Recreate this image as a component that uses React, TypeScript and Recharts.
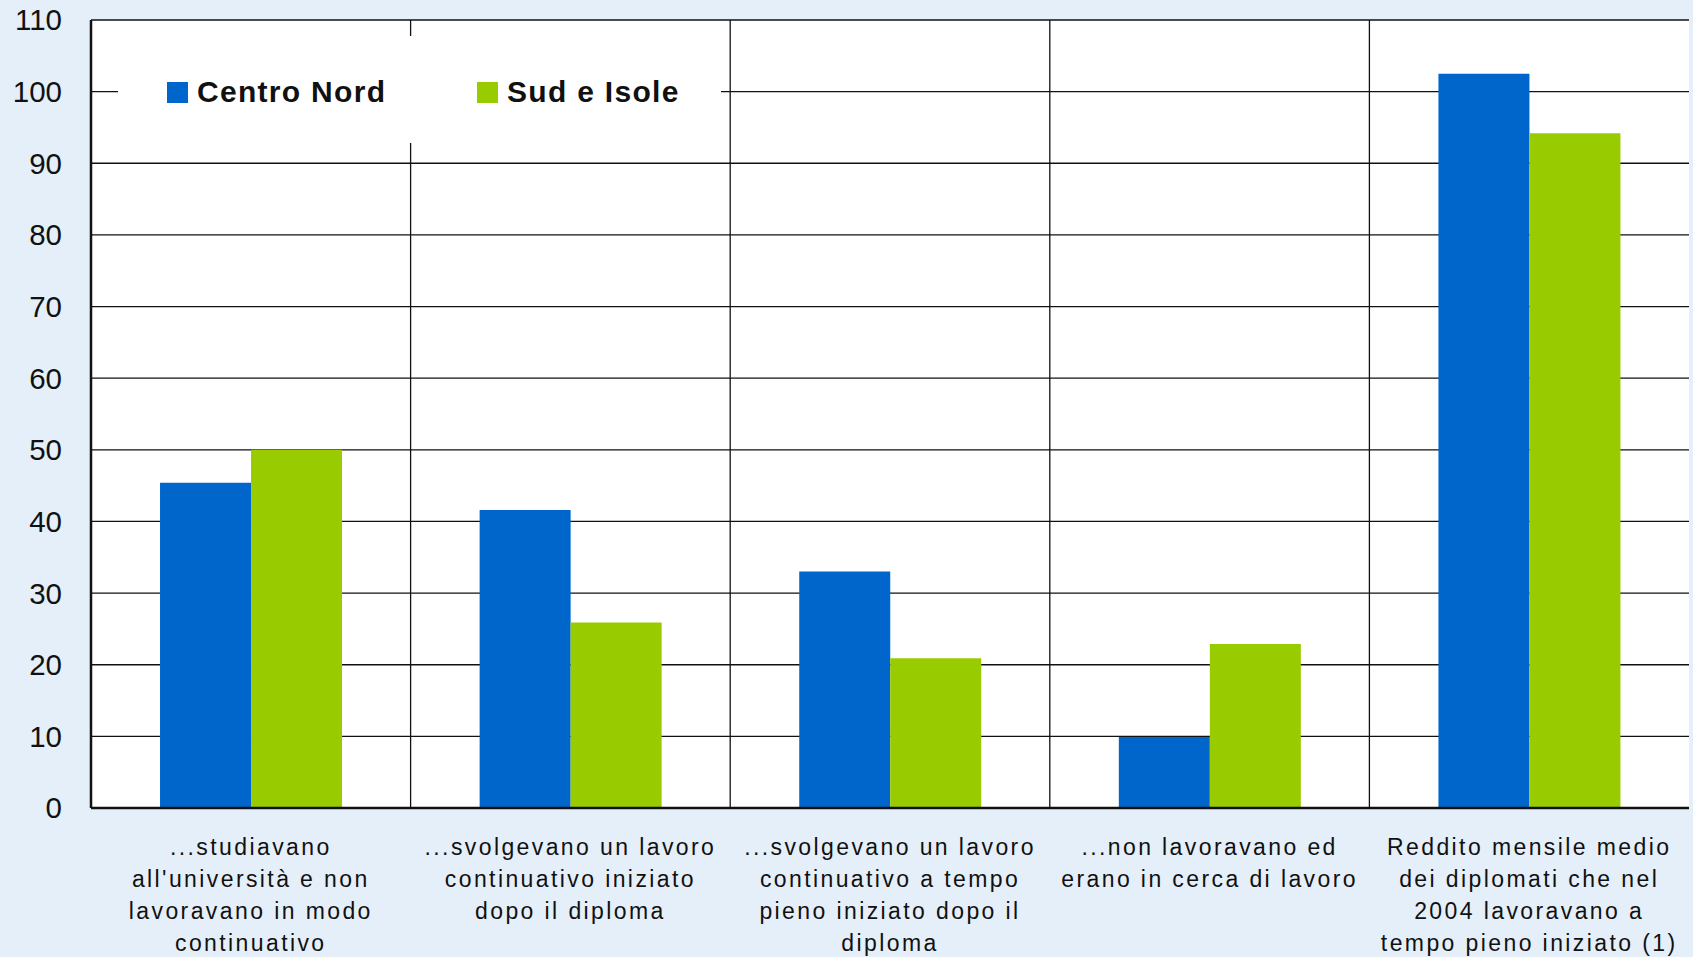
import { BarChart, Bar, XAxis, YAxis, CartesianGrid, Legend } from "recharts";

const categories = [
	"...studiavano all'università e non lavoravano in modo continuativo",
	"...svolgevano un lavoro continuativo iniziato dopo il diploma",
	"...svolgevano un lavoro continuativo a tempo pieno iniziato dopo il diploma",
	"...non lavoravano ed erano in cerca di lavoro",
	"Reddito mensile medio dei diplomati che nel 2004 lavoravano a tempo pieno iniziato (1)",
];

const labelLines = [
	["...studiavano", "all'università e non", "lavoravano in modo", "continuativo"],
	["...svolgevano un lavoro", "continuativo iniziato", "dopo il diploma"],
	["...svolgevano un lavoro", "continuativo a tempo", "pieno iniziato dopo il", "diploma"],
	["...non lavoravano ed", "erano in cerca di lavoro"],
	["Reddito mensile medio", "dei diplomati che nel", "2004 lavoravano a", "tempo pieno iniziato (1)"],
];

const centroNord = [45.4, 41.6, 33.0, 9.9, 102.5];
const sudIsole = [50.0, 25.9, 20.9, 22.9, 94.2];

const yTicks = [0, 10, 20, 30, 40, 50, 60, 70, 80, 90, 100, 110];

const BLUE = "#0066CC";
const GREEN = "#99CC00";
const FONT = "'Liberation Sans', Arial, sans-serif";

const data = categories.map((name, i) => ({
	name,
	centroNord: centroNord[i],
	sudIsole: sudIsole[i],
}));

function CategoryTick(props: any) {
	const { x, y, index } = props;
	const lines = labelLines[index] || [];
	return (
		<text
			x={x}
			y={y}
			textAnchor="middle"
			fill="#111"
			fontFamily={FONT}
			fontSize={23}
			letterSpacing={2.4}
		>
			{lines.map((line, i) => (
				<tspan key={i} x={x} dy={i === 0 ? 45 : 32}>
					{line}
				</tspan>
			))}
		</text>
	);
}

function LegendBox() {
	const item = (color: string, label: string, left: number) => (
		<div
			style={{
				position: "absolute",
				left,
				top: 41,
				display: "flex",
				alignItems: "center",
			}}
		>
			<span
				style={{
					display: "inline-block",
					width: 21,
					height: 21,
					background: color,
					marginRight: 9,
				}}
			/>
			<span
				style={{
					fontFamily: FONT,
					fontWeight: "bold",
					fontSize: 30,
					letterSpacing: 1.3,
					color: "#111",
					lineHeight: "30px",
				}}
			>
				{label}
			</span>
		</div>
	);
	return (
		<div style={{ position: "relative", width: "100%", height: "100%" }}>
			{item(BLUE, "Centro Nord", 49)}
			{item(GREEN, "Sud e Isole", 359)}
		</div>
	);
}

// boundaries between categories instead of tick centres
function categoryBoundaries({ offset }: any) {
	const step = offset.width / categories.length;
	return categories.slice(1).map((_, i) => offset.left + step * (i + 1));
}

export default function App() {
	return (
		<div
			style={{
				position: "absolute",
				top: 0,
				left: 0,
				width: 1693,
				height: 957,
				background: "#E5EFF9",
			}}
		>
			<BarChart
				width={1693}
				height={957}
				data={data}
				margin={{ top: 20, right: 4, left: 0, bottom: 0 }}
				barCategoryGap="21.6%"
				barGap={0}
			>
				<CartesianGrid
					fill="#fff"
					stroke="#111"
					strokeWidth={1.3}
					verticalCoordinatesGenerator={categoryBoundaries}
				/>
				<XAxis
					dataKey="name"
					height={149}
					tickLine={false}
					tickSize={0}
					tick={<CategoryTick />}
					interval={0}
					axisLine={{ stroke: "#111", strokeWidth: 2.5 }}
				/>
				<XAxis
					xAxisId="top"
					orientation="top"
					dataKey="name"
					height={0}
					tick={false}
					tickLine={false}
					axisLine={{ stroke: "#111", strokeWidth: 2.5 }}
				/>
				<YAxis
					domain={[0, 110]}
					ticks={yTicks}
					interval={0}
					width={91}
					tickLine={false}
					tickSize={0}
					tickMargin={29}
					tick={{ fill: "#111", fontSize: 29.5, fontFamily: FONT }}
					axisLine={{ stroke: "#111", strokeWidth: 2.5 }}
				/>
				<YAxis
					yAxisId="right"
					orientation="right"
					domain={[0, 110]}
					width={0}
					tick={false}
					tickLine={false}
					axisLine={{ stroke: "#111", strokeWidth: 2.5 }}
				/>
				<Legend
					verticalAlign="middle"
					align="center"
					content={<LegendBox />}
					wrapperStyle={{
						position: "absolute",
						left: 118,
						top: 36,
						width: 603,
						height: 107,
						background: "#fff",
					}}
				/>
				<Bar dataKey="centroNord" name="Centro Nord" fill={BLUE} isAnimationActive={false} />
				<Bar dataKey="sudIsole" name="Sud e Isole" fill={GREEN} isAnimationActive={false} />
			</BarChart>
		</div>
	);
}
